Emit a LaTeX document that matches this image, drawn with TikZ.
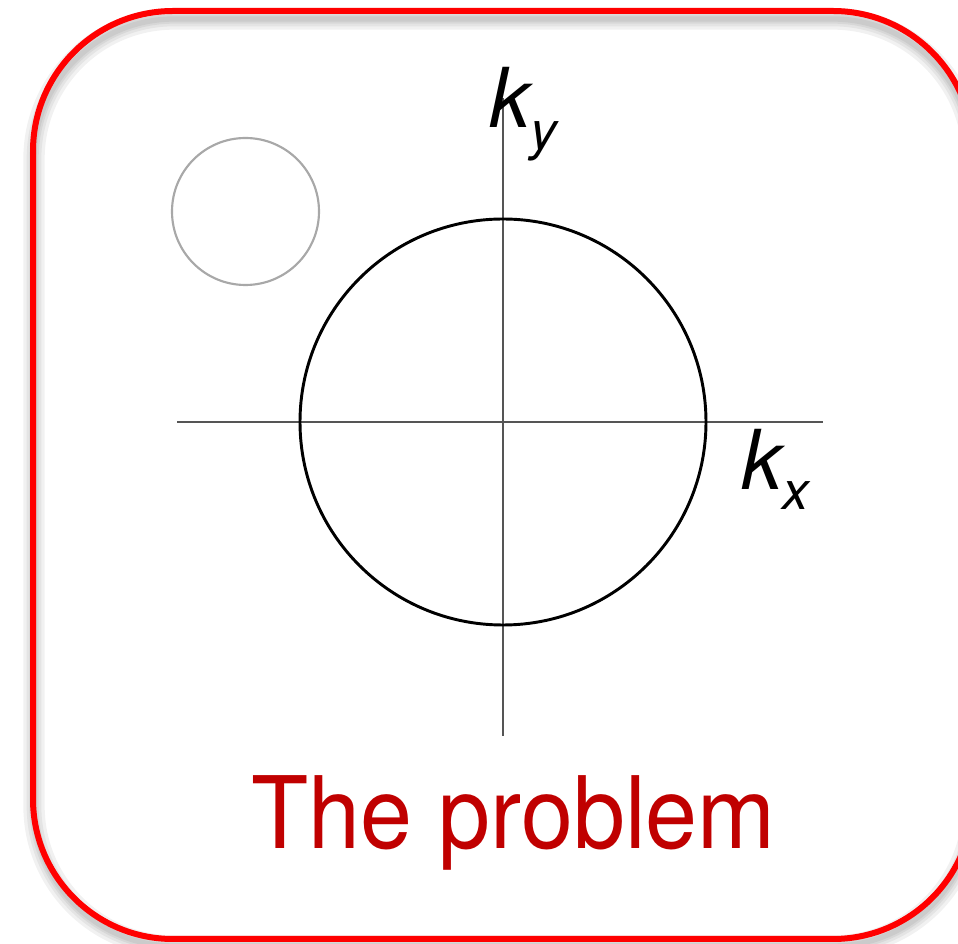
\documentclass[tikz,border=0pt]{standalone}
\usepackage{fontspec}
\setmainfont{TeX Gyre Heros}
\usepackage{graphicx}
\definecolor{frame}{HTML}{FF0000}
\definecolor{title}{HTML}{C00000}
\definecolor{axis}{HTML}{555555}
\definecolor{ghost}{HTML}{A8A8A8}
\tikzset{
  framebox/.style={draw=frame, line width=4.5pt, rounded corners=105pt},
  shadowbox/.style={draw=black, line width=#1, opacity=0.055, rounded corners=105pt},
  axisline/.style={draw=axis, line width=1.4pt},
  fermi/.style={draw=black, line width=2.2pt},
  ghostcircle/.style={draw=ghost, line width=1.6pt},
  klabel/.style={inner sep=0pt, anchor=base west, font=\fontsize{62}{62}\selectfont\itshape},
  titletext/.style={inner sep=0pt, anchor=base west, text=title, font=\fontsize{75}{75}\selectfont},
}
\begin{document}
\begin{tikzpicture}[x=0.75pt,y=-0.75pt]
\useasboundingbox (0,0) rectangle (958,944);
% shadow
\foreach \w in {16pt,11pt,7pt,4pt}{
  \path[shadowbox=\w] (34,19) rectangle (973,946);
}
% frame
\path[framebox] (33,11) rectangle (973,939);
% ghost circle
\path[ghostcircle] (245.5,211.5) circle (73.5);
% axes
\coordinate (xl) at (177,422);
\coordinate (xr) at (823,422);
\coordinate (yt) at (503,98);
\coordinate (yb) at (503,736);
\path[axisline] (xl) -- (xr);
\path[axisline] (yt) -- (yb);
% Fermi circle
\path[fermi] (503,422) circle (203);
% labels
\node[klabel] (ky) at (489,128) {k\raisebox{-16.5pt}{\fontsize{40}{40}\selectfont y}};
\node[klabel] (kx) at (741,490) {k\raisebox{-15pt}{\fontsize{40}{40}\selectfont x}};
\node[titletext] (title) at (251,849) {\scalebox{0.935}[1]{The problem}};
\end{tikzpicture}
\end{document}
